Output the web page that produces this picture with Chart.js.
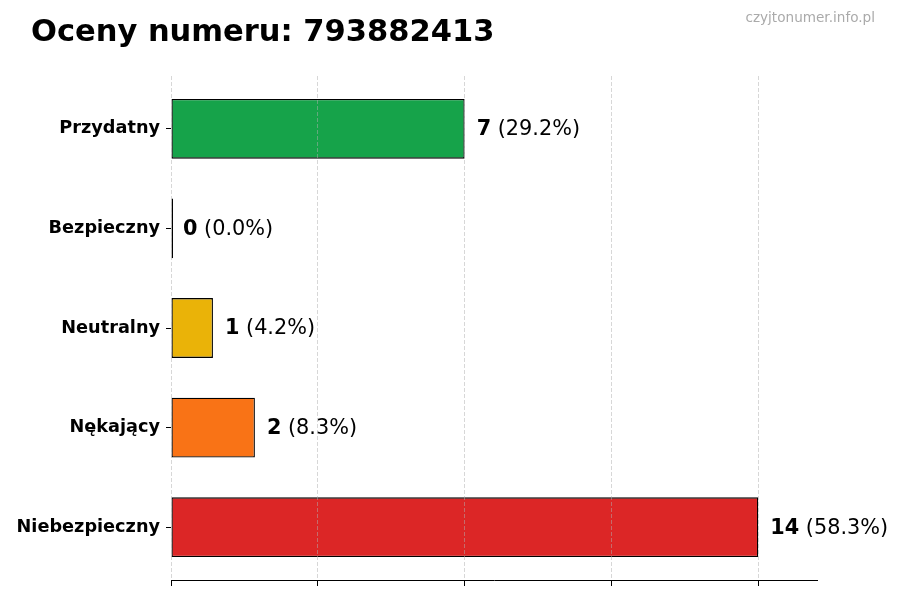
<!DOCTYPE html>
<html>
<head>
<meta charset="utf-8">
<script src="https://cdn.jsdelivr.net/npm/chart.js@4.4.1/dist/chart.umd.min.js"></script>
<style>
  html, body { margin: 0; padding: 0; background: #fff; }
  #wrap { width: 900px; height: 600px; }
</style>
</head>
<body>
<div id="wrap"><canvas id="chart" width="900" height="600"></canvas></div>
<script>
'use strict';

// ===== DATA =====
const categories = ['Przydatny', 'Bezpieczny', 'Neutralny', 'Nękający', 'Niebezpieczny'];
const counts = [7, 0, 1, 2, 14];
const barColors = ['#16a34a', '#2563eb', '#eab308', '#f97316', '#dc2626'];
const xTicks = [0, 3.5, 7, 10.5, 14];
const xMax = 15.4;
const titleText = 'Oceny numeru: 793882413';
const watermark = 'czyjtonumer.info.pl';

const total = counts.reduce((a, b) => a + b, 0);
const FONT = '"DejaVu Sans", sans-serif';

// ===== PLUGINS =====
const headerPlugin = {
  id: 'header',
  afterDraw(chart) {
    const ctx = chart.ctx;
    ctx.save();
    ctx.fillStyle = '#000';
    ctx.textAlign = 'left';
    ctx.textBaseline = 'alphabetic';
    ctx.font = 'bold 30.5px ' + FONT;
    ctx.fillText(titleText, 31, 41);
    ctx.fillStyle = '#aaaaaa';
    ctx.textAlign = 'right';
    ctx.font = '13.6px ' + FONT;
    ctx.fillText(watermark, 875, 22);
    ctx.restore();
  }
};

// small extra margin around the categories (like matplotlib's auto margins)
const categoryMargin = {
  id: 'categoryMargin',
  afterLayout(chart) {
    const y = chart.scales.y;
    y._startValue -= 0.03;
    y._valueRange += 0.06;
  }
};

const valueLabels = {
  id: 'valueLabels',
  afterDatasetsDraw(chart) {
    const ctx = chart.ctx;
    const meta = chart.getDatasetMeta(0);
    ctx.save();
    ctx.textBaseline = 'middle';
    ctx.textAlign = 'left';
    ctx.fillStyle = '#000';
    meta.data.forEach((bar, i) => {
      const x = chart.scales.x.getPixelForValue(counts[i]) + 12;
      const y = bar.y + 1;
      const num = String(counts[i]);
      const pct = ' (' + (counts[i] / total * 100).toFixed(1) + '%)';
      ctx.font = 'bold 20.8px ' + FONT;
      ctx.fillText(num, x, y);
      const w = ctx.measureText(num).width;
      ctx.font = '20.8px ' + FONT;
      ctx.fillText(pct, x + w, y);
    });
    ctx.restore();
  }
};

// ===== CHART =====
new Chart(document.getElementById('chart'), {
  type: 'bar',
  data: {
    labels: categories,
    datasets: [{
      data: counts,
      backgroundColor: barColors,
      borderColor: '#000',
      borderWidth: 1.3,
      borderSkipped: false,
      minBarLength: 2,
      barPercentage: 0.6,
      categoryPercentage: 1.0
    }]
  },
  options: {
    indexAxis: 'y',
    responsive: false,
    animation: false,
    devicePixelRatio: 1,
    layout: { padding: { left: 0, right: 83, top: 76, bottom: 0 } },
    plugins: {
      legend: { display: false },
      title: { display: false },
      tooltip: { enabled: false }
    },
    scales: {
      x: {
        type: 'linear',
        position: 'bottom',
        min: 0,
        max: xMax,
        afterBuildTicks(scale) { scale.ticks = xTicks.map(v => ({ value: v })); },
        afterFit(scale) { scale.height = 20; },
        ticks: { callback: () => '' },
        grid: {
          color: 'rgba(175,175,175,0.5)',
          lineWidth: 1,
          z: 1,
          drawTicks: true,
          tickLength: 6,
          tickColor: '#000',
          tickWidth: 1
        },
        border: { display: true, color: '#000', width: 1, dash: [4, 2], z: 1 }
      },
      y: {
        afterFit(scale) { scale.width = 171; },
        ticks: {
          color: '#000',
          padding: 6,
          font: { family: FONT, size: 17.7, weight: 'bold' }
        },
        grid: {
          offset: false,
          drawOnChartArea: false,
          drawTicks: true,
          tickLength: 5,
          tickColor: '#000'
        },
        border: { display: false }
      }
    }
  },
  plugins: [categoryMargin, headerPlugin, valueLabels]
});
</script>
</body>
</html>
